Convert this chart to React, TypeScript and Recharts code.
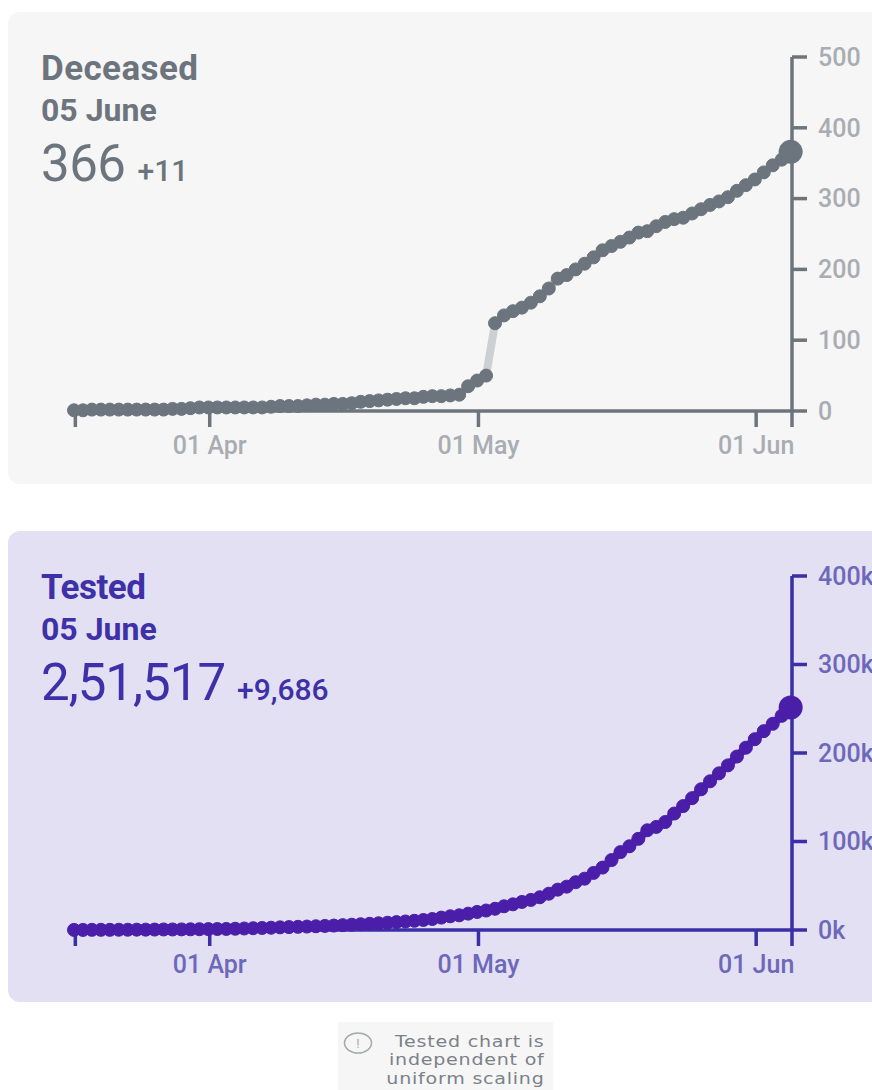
import { LineChart, Line, XAxis, YAxis, ReferenceDot } from 'recharts'

const deceasedValues = [
  1, 1, 2, 2, 2, 2, 2, 2, 2, 2, 2, 3, 3, 4, 5, 5, 5, 5, 5, 5, 5, 5, 6, 7, 7, 7, 8, 9, 9, 10, 10, 11, 13, 14, 15, 16, 17,
  18, 18, 20, 21, 21, 22, 23, 35, 43, 50, 124, 135, 141, 146, 153, 162, 173, 187, 192, 200, 208, 217, 227, 233, 239,
  245, 252, 254, 261, 267, 271, 273, 279, 285, 291, 296, 302, 311, 319, 327, 337, 347, 355, 366,
]
const testedValues = [
  0.1, 0.1, 0.2, 0.2, 0.2, 0.3, 0.3, 0.4, 0.4, 0.5, 0.6, 0.6, 0.7, 0.8, 0.9, 1, 1.1, 1.2, 1.4, 1.7, 2, 2.3, 2.6, 3, 3.3,
  3.6, 3.9, 4.2, 4.6, 5, 5.5, 6, 6.5, 7, 7.6, 8.2, 8.9, 9.6, 10.4, 11.3, 12.4, 14, 15.5, 16.6, 18.5, 20.4, 22, 24, 26.8,
  29, 31.7, 34, 37, 41, 45.6, 49, 54, 58, 64.5, 70.5, 79, 88, 94.6, 103, 112.7, 116.5, 122, 131.6, 140, 149, 159, 168,
  177, 186, 196, 206, 215.6, 224.7, 233, 242, 251.5,
]
// day positions of the ticks: 17 Mar, 01 Apr, 01 May, 01 Jun, 05 Jun
const dayTicks = [0.15, 15.15, 45.15, 76.15, 80.15]
const dayLabels = ['', '01 Apr', '01 May', '01 Jun', '']
const deceasedTicks = [0, 100, 200, 300, 400, 500]
const testedTicks = [0, 100, 200, 300, 400]

const FONT = 'Roboto, sans-serif'

interface CardProps {
  top: number
  title: string
  titleSpacing: number
  total: string
  totalSpacing: number
  delta: string
  values: number[]
  ticks: number[]
  tickFmt: (v: number) => string
  bg: string
  textColor: string
  axisColor: string
  labelColor: string
  dotColor: string
  lineColor: string
}

function StatCard(p: CardProps) {
  const data = p.values.map((value, day) => ({ day, value }))
  const last = data[data.length - 1]
  const tick = { fill: p.labelColor, fontSize: 25, fontWeight: 500, fontFamily: FONT }
  return (
    <div style={{ position: 'absolute', left: 0, top: p.top, width: 872, height: 472 }}>
      <div
        style={{ position: 'absolute', left: 8, top: 0, width: 880, height: 471.5, background: p.bg, borderRadius: 12 }}
      />
      <div style={{ position: 'absolute', left: 41, top: 36, color: p.textColor, fontFamily: FONT }}>
        <div style={{ fontSize: 35, fontWeight: 700, lineHeight: '41px', letterSpacing: p.titleSpacing }}>{p.title}</div>
        <div style={{ fontSize: 32, fontWeight: 700, lineHeight: '42px' }}>05 June</div>
        <div
          style={{ fontSize: 51, fontWeight: 400, lineHeight: '65px', letterSpacing: p.totalSpacing, whiteSpace: 'nowrap' }}
        >
          {p.total}
          <span style={{ fontSize: 30, fontWeight: 500, marginLeft: 12, letterSpacing: 0 }}>{p.delta}</span>
        </div>
      </div>
      <div style={{ position: 'absolute', left: 0, top: 0 }}>
        <LineChart width={872} height={471} data={data} margin={{ top: 45, left: 74, right: 0, bottom: 0 }}>
          <XAxis
            dataKey="day"
            type="number"
            domain={[0, 80.15]}
            ticks={dayTicks}
            interval={0}
            height={72}
            tickSize={16}
            tickMargin={9}
            tickFormatter={(v: number) => dayLabels[dayTicks.indexOf(v)]}
            axisLine={{ stroke: p.axisColor, strokeWidth: 3.5 }}
            tickLine={{ stroke: p.axisColor, strokeWidth: 3.5 }}
            tick={tick}
          />
          <YAxis
            orientation="right"
            width={80}
            domain={[0, p.ticks[p.ticks.length - 1]]}
            ticks={p.ticks}
            interval={0}
            tickSize={15}
            tickMargin={11}
            tickFormatter={p.tickFmt}
            axisLine={{ stroke: p.axisColor, strokeWidth: 3.5 }}
            tickLine={{ stroke: p.axisColor, strokeWidth: 3.5 }}
            tick={{ ...tick, textAnchor: 'start' }}
          />
          <Line
            dataKey="value"
            type="linear"
            stroke={p.lineColor}
            strokeWidth={8}
            dot={{ r: 6.5, fill: p.dotColor, stroke: p.dotColor, strokeWidth: 1 }}
            isAnimationActive={false}
          />
          <ReferenceDot x={last.day} y={last.value} r={12} fill={p.dotColor} stroke="none" ifOverflow="visible" />
        </LineChart>
      </div>
    </div>
  )
}

export default function App() {
  return (
    <div style={{ position: 'absolute', left: 0, top: 0, width: 872, height: 1090, overflow: 'hidden', background: '#fff' }}>
      <StatCard
        top={12}
        title="Deceased"
        titleSpacing={0.4}
        total="366"
        totalSpacing={-0.5}
        delta="+11"
        values={deceasedValues}
        ticks={deceasedTicks}
        tickFmt={(v) => String(v)}
        bg="#f6f6f7"
        textColor="#6c757d"
        axisColor="#6c757d"
        labelColor="#a9adb2"
        dotColor="#6c757d"
        lineColor="#cdd0d3"
      />
      <StatCard
        top={530.5}
        title="Tested"
        titleSpacing={-0.5}
        total="2,51,517"
        totalSpacing={-1}
        delta="+9,686"
        values={testedValues}
        ticks={testedTicks}
        tickFmt={(v) => `${v}k`}
        bg="#e2e0f2"
        textColor="#3e30a8"
        axisColor="#3a2fa6"
        labelColor="#6e68ba"
        dotColor="#4b1eaa"
        lineColor="#4b1eaa"
      />
      <div style={{ position: 'absolute', left: 338, top: 1022, width: 215, height: 68, background: '#f6f6f7' }}>
        <svg width={40} height={30} style={{ position: 'absolute', left: 4, top: 5 }}>
          <ellipse cx={16} cy={16} rx={13.5} ry={10} fill="none" stroke="#a5a8ac" strokeWidth={1.5} />
          <text x={16} y={21} textAnchor="middle" fontSize={13} fontFamily={FONT} fill="#a5a8ac">
            !
          </text>
        </svg>
        <div
          style={{
            position: 'absolute',
            right: 8,
            top: 10.5,
            textAlign: 'right',
            fontFamily: '"DejaVu Sans", sans-serif',
            fontSize: 15,
            lineHeight: '18.5px',
            letterSpacing: 0.6,
            color: '#7b8187',
            whiteSpace: 'nowrap',
            transform: 'scaleX(1.27)',
            transformOrigin: 'right center',
          }}
        >
          Tested chart is
          <br />
          independent of
          <br />
          uniform scaling
        </div>
      </div>
    </div>
  )
}
